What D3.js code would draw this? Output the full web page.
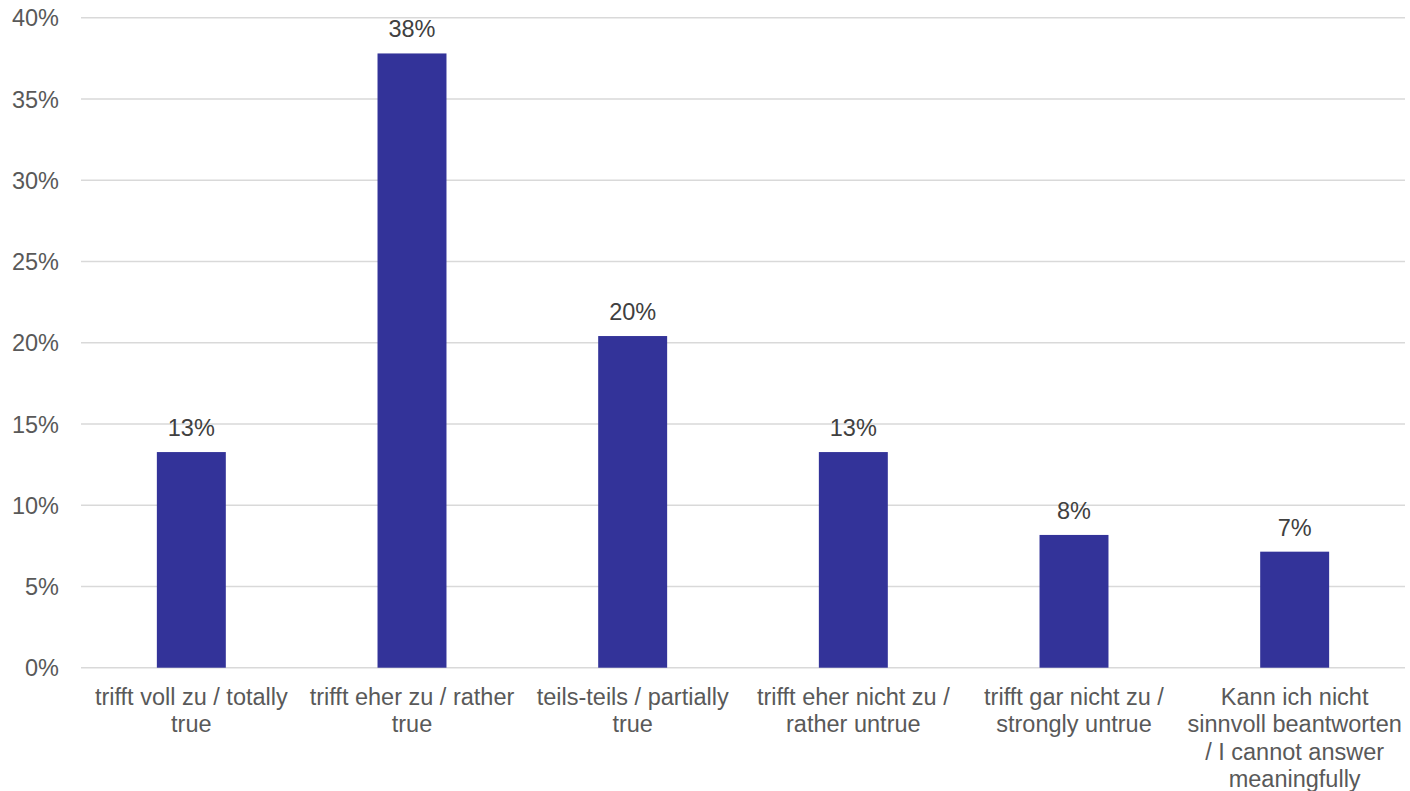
<!DOCTYPE html>
<html>
<head>
<meta charset="utf-8">
<script src="https://cdn.jsdelivr.net/npm/d3@7"></script>
<style>
  html, body { margin: 0; padding: 0; background: #fff; }
  svg { display: block; font-family: "Liberation Sans", Arial, sans-serif; }
</style>
</head>
<body>
<script>
const categories = [
  "trifft voll zu / totally true",
  "trifft eher zu / rather true",
  "teils-teils / partially true",
  "trifft eher nicht zu / rather untrue",
  "trifft gar nicht zu / strongly untrue",
  "Kann ich nicht sinnvoll beantworten / I cannot answer meaningfully"
];
const categoryLines = [
  ["trifft voll zu / totally", "true"],
  ["trifft eher zu / rather", "true"],
  ["teils-teils / partially", "true"],
  ["trifft eher nicht zu /", "rather untrue"],
  ["trifft gar nicht zu /", "strongly untrue"],
  ["Kann ich nicht", "sinnvoll beantworten", "/ I cannot answer", "meaningfully"]
];
const values = [13.27, 37.8, 20.41, 13.27, 8.17, 7.14];
const valueLabels = ["13%", "38%", "20%", "13%", "8%", "7%"];
const yTicks = [0, 5, 10, 15, 20, 25, 30, 35, 40];

const W = 1410, H = 791;
const mLeft = 81, mRight = 1405, mTop = 17.7, mBottom = 667.7;
const textColor = "#595959";
const fs = "23.5px";

const svg = d3.select("body").append("svg").attr("width", W).attr("height", H);

const x = d3.scaleBand().domain(categories).range([mLeft, mRight])
  .paddingInner(0.6875).paddingOuter(0.34375);
const y = d3.scaleLinear().domain([0, 40]).range([mBottom, mTop]);

// gridlines
svg.append("g").selectAll("line").data(yTicks).join("line")
  .attr("x1", mLeft).attr("x2", mRight)
  .attr("y1", d => y(d)).attr("y2", d => y(d))
  .attr("stroke", "#d9d9d9").attr("stroke-width", 1.4);

// y axis labels
const yAxis = d3.axisLeft(y).tickValues(yTicks).tickFormat(d => d + "%").tickSize(0).tickPadding(0);
const gy = svg.append("g").attr("transform", `translate(${mLeft - 22},0)`).call(yAxis);
gy.select(".domain").remove();
gy.selectAll("text").attr("fill", textColor).style("font-size", fs)
  .style("font-family", "'Liberation Sans', Arial, sans-serif").attr("dy", "0.35em");

// bars
svg.append("g").selectAll("rect").data(values).join("rect")
  .attr("x", (d, i) => x(categories[i]))
  .attr("width", x.bandwidth())
  .attr("y", d => y(d))
  .attr("height", d => y(0) - y(d))
  .attr("fill", "#333399");

// value labels
svg.append("g").selectAll("text").data(values).join("text")
  .attr("x", (d, i) => x(categories[i]) + x.bandwidth() / 2)
  .attr("y", d => y(d) - 16)
  .attr("text-anchor", "middle")
  .attr("fill", "#404040")
  .style("font-size", fs)
  .text((d, i) => valueLabels[i]);

// category labels
const gx = svg.append("g");
categories.forEach((c, i) => {
  const cx = x(c) + x.bandwidth() / 2;
  const t = gx.append("text")
    .attr("x", cx)
    .attr("y", 705)
    .attr("text-anchor", "middle")
    .attr("fill", textColor)
    .style("font-size", fs);
  categoryLines[i].forEach((line, j) => {
    t.append("tspan").attr("x", cx).attr("y", 705 + j * 27.3).text(line);
  });
});
</script>
</body>
</html>
